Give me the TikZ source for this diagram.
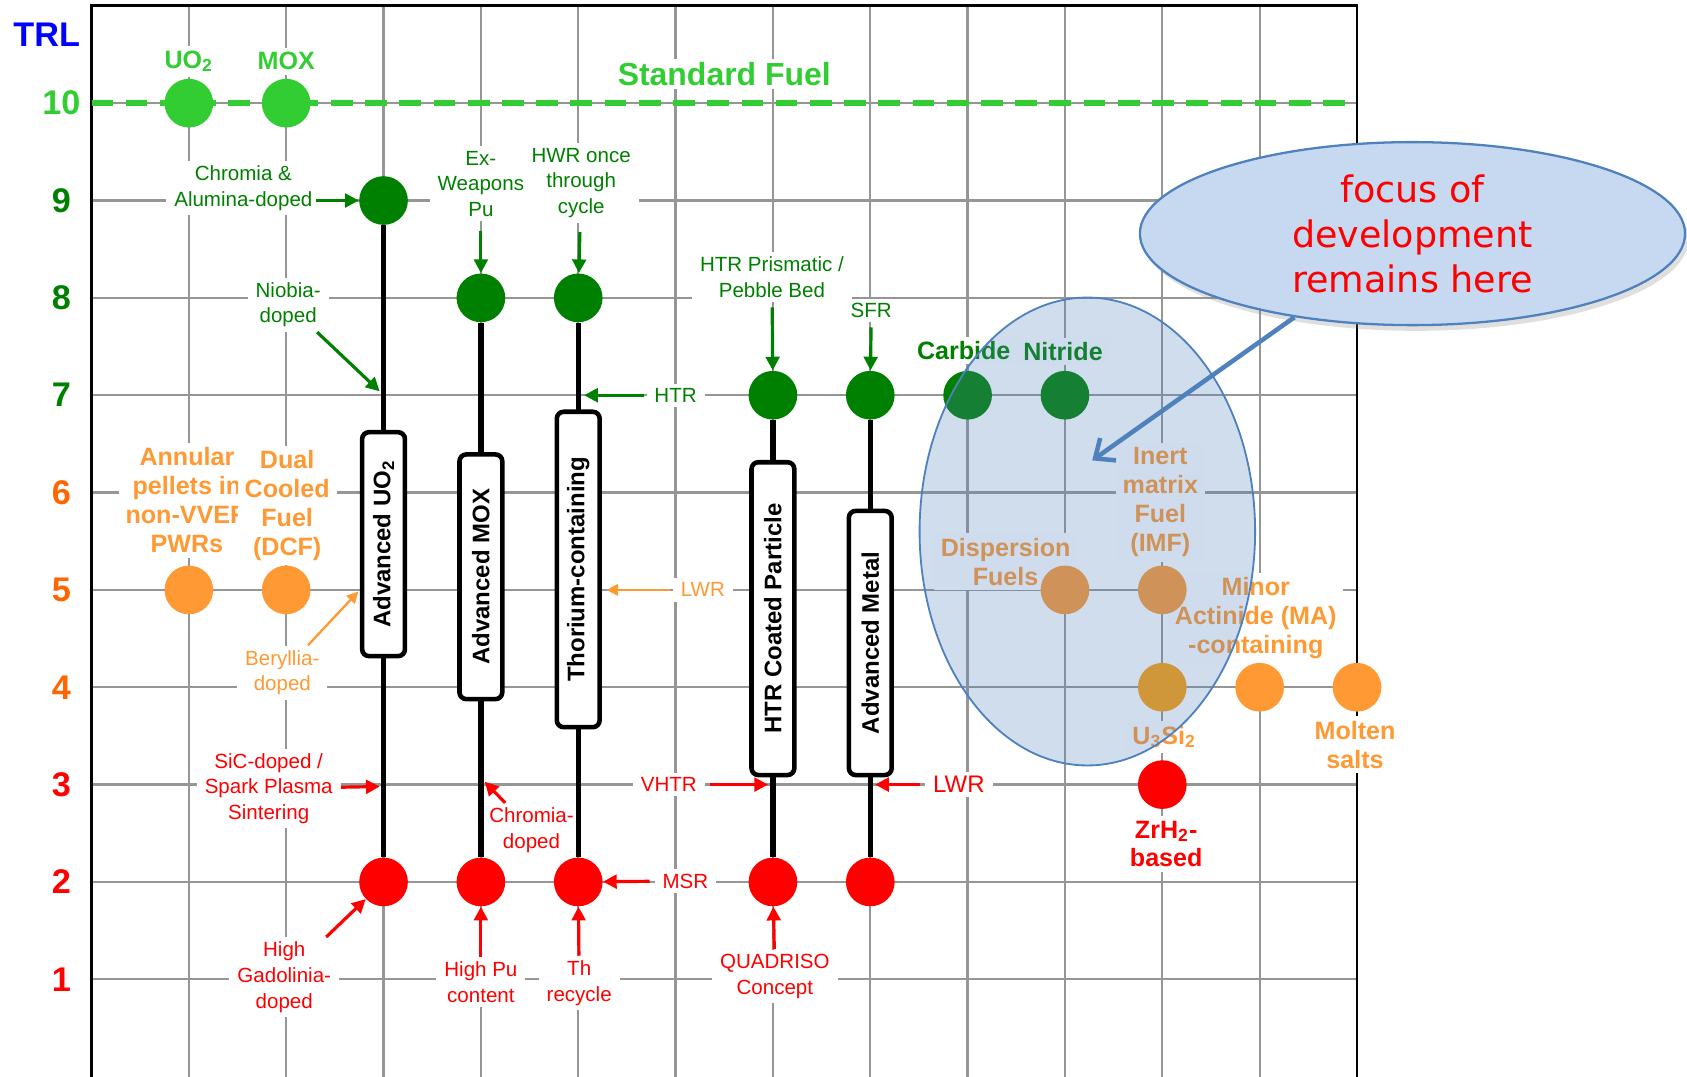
\documentclass[tikz,border=0pt]{standalone}
\usepackage{fontspec}
\setmainfont{Liberation Sans}
\newfontfamily\calloutfont{DejaVu Sans}
\usepackage{tikz}
\usetikzlibrary{arrows.meta,positioning,shapes.geometric,shadows}
\definecolor{stdgreen}{RGB}{50,205,50}
\definecolor{trlgreen}{RGB}{0,128,0}
\definecolor{trlorange}{RGB}{255,102,0}
\definecolor{fuelorange}{RGB}{255,153,51}
\definecolor{silicidegold}{RGB}{255,160,10}
\definecolor{trlred}{RGB}{255,0,0}
\definecolor{gridgray}{RGB}{150,150,150}
\definecolor{zoneblue}{RGB}{79,129,189}
\definecolor{calloutfill}{RGB}{198,217,241}
\tikzset{
  fueldot/.style = {circle, inner sep=0pt, minimum size=0.75cm},
  stem/.style    = {line width=2.4pt},
  fuelbox/.style = {draw, line width=2pt, rounded corners=3pt, fill=white, rotate=90,
                    minimum height=0.66cm, inner sep=1pt,
                    font=\fontsize{10.5}{12}\selectfont\bfseries},
  lbl/.style     = {fill=white, inner xsep=3.5pt, inner ysep=2pt, align=center,
                    font=\fontsize{9}{11.3}\selectfont},
  blbl/.style    = {fill=white, inner xsep=3pt, inner ysep=2pt, align=center,
                    font=\fontsize{11}{12.7}\selectfont\bfseries},
  trlnum/.style  = {font=\fontsize{15}{18}\selectfont\bfseries},
  garr/.style    = {-{Triangle[length=6pt,width=6pt]}, line width=1.4pt, trlgreen},
  oarr/.style    = {-{Triangle[length=5pt,width=5pt]}, line width=1pt, fuelorange},
  rarr/.style    = {-{Triangle[length=6pt,width=6pt]}, line width=1.4pt, trlred},
}

\begin{document}
\begin{tikzpicture}[x=1.5cm,y=1.5cm]
\useasboundingbox (-0.94,0) rectangle (16.39,11.06);
\draw[gridgray, line width=1pt, step=1.5cm] (0,0.001) grid (13,11);
\draw[line width=1.2pt] (0,0) -- (0,11) -- (13,11) -- (13,0);
\draw[stdgreen, line width=2.4pt, dash pattern=on 9.5pt off 5.5pt] (0,10) -- (13,10);

% TRL scale
\node[trlnum, text=blue] (trl) at (-0.46,10.70) {TRL};
\node[trlnum, text=stdgreen] (n10) at (-0.31,10) {10};
\node[trlnum, text=trlgreen] (n9) at (-0.31,9) {9};
\node[trlnum, text=trlgreen] (n8) at (-0.31,8) {8};
\node[trlnum, text=trlgreen] (n7) at (-0.31,7) {7};
\node[trlnum, text=trlorange] (n6) at (-0.31,6) {6};
\node[trlnum, text=trlorange] (n5) at (-0.31,5) {5};
\node[trlnum, text=trlorange] (n4) at (-0.31,4) {4};
\node[trlnum, text=trlred] (n3) at (-0.31,3) {3};
\node[trlnum, text=trlred] (n2) at (-0.31,2) {2};
\node[trlnum, text=trlred] (n1) at (-0.31,1) {1};

% standard fuel
\node[blbl, text=stdgreen] (uo2lbl) at (1,10.43) {UO\textsubscript{2}};
\node[blbl, text=stdgreen] (moxlbl) at (2,10.43) {MOX};
\node[fill=white, inner xsep=4pt, inner ysep=1.5pt, text=stdgreen, font=\fontsize{14}{16}\selectfont\bfseries] (stdlbl) at (6.5,10.30) {Standard Fuel};

% green labels
\node[lbl, text=trlgreen] (chromia) at (1.56,9.13) {Chromia \&\\Alumina-doped};
\node[lbl, text=trlgreen] (exweapons) at (4.0,9.17) {Ex-\\Weapons\\Pu};
\node[lbl, text=trlgreen] (hwr) at (5.03,9.18) {HWR once\\through\\cycle};
\node[lbl, text=trlgreen] (niobia) at (2.02,7.93) {Niobia-\\doped};
\node[lbl, text=trlgreen] (htr) at (6.0,7.0) {HTR};
\node[lbl, text=trlgreen] (prism) at (6.99,8.21) {HTR Prismatic /\\Pebble Bed};
\node[lbl, text=trlgreen] (sfr) at (8.01,7.87) {SFR};
\node[blbl, text=trlgreen] (carbide) at (8.96,7.46) {Carbide};
\node[blbl, text=trlgreen] (nitride) at (9.98,7.45) {Nitride};

% orange labels
\node[blbl, text=fuelorange] (annular) at (0.98,5.92) {Annular\\pellets in\\non-VVER\\PWRs};
\node[blbl, text=fuelorange] (dcf) at (2.01,5.87) {Dual\\Cooled\\Fuel\\(DCF)};
\node[lbl, text=fuelorange] (beryllia) at (1.96,4.15) {Beryllia-\\doped};
\node[lbl, text=fuelorange] (lwro) at (6.28,5.0) {LWR};
\node[blbl, text=fuelorange] (dispersion) at (9.39,5.29) {Dispersion\\Fuels};
\node[blbl, text=fuelorange] (imf) at (10.98,5.90) {Inert\\matrix\\Fuel\\(IMF)};
\node[blbl, text=fuelorange] (minor) at (11.96,4.71) {Minor\\Actinide (MA)\\-containing};
\node[blbl, text=fuelorange] (u3si2) at (11.02,3.49) {U\textsubscript{3}Si\textsubscript{2}};
\node[blbl, text=fuelorange] (molten) at (12.98,3.41) {Molten\\salts};

% red labels
\node[lbl, text=trlred] (sic) at (1.82,2.96) {SiC-doped /\\Spark Plasma\\Sintering};
\node[lbl, text=trlred] (chromred) at (4.52,2.53) {Chromia-\\doped};
\node[lbl, text=trlred] (vhtr) at (5.93,3.0) {VHTR};
\node[lbl, text=trlred, font=\fontsize{10.5}{12}\selectfont] (lwrr) at (8.91,3.0) {LWR};
\node[lbl, text=trlred] (msr) at (6.10,2.01) {MSR};
\node[lbl, text=trlred] (gado) at (1.98,1.02) {High\\Gadolinia-\\doped};
\node[lbl, text=trlred] (highpu) at (4.0,0.97) {High Pu\\content};
\node[lbl, text=trlred] (threc) at (5.01,0.96) {Th\\recycle};
\node[lbl, text=trlred] (quadriso) at (7.02,1.03) {QUADRISO\\Concept};
\node[blbl, text=trlred] (zrh2) at (11.04,2.39) {ZrH\textsubscript{2}-\\based};

% fuel points
\node[fueldot, fill=stdgreen] (g10a) at (1,10) {};
\node[fueldot, fill=stdgreen] (g10b) at (2,10) {};
\node[fueldot, fill=trlgreen] (d9) at (3,9) {};
\node[fueldot, fill=trlgreen] (d8a) at (4,8) {};
\node[fueldot, fill=trlgreen] (d8b) at (5,8) {};
\node[fueldot, fill=trlgreen] (d7a) at (7,7) {};
\node[fueldot, fill=trlgreen] (d7b) at (8,7) {};
\node[fueldot, fill=trlgreen] (d7c) at (9,7) {};
\node[fueldot, fill=trlgreen] (d7d) at (10,7) {};
\node[fueldot, fill=fuelorange] (o5a) at (1,5) {};
\node[fueldot, fill=fuelorange] (o5b) at (2,5) {};
\node[fueldot, fill=fuelorange] (o5c) at (10,5) {};
\node[fueldot, fill=fuelorange] (o5d) at (11,5) {};
\node[fueldot, fill=silicidegold] (o4a) at (11,4) {};
\node[fueldot, fill=fuelorange] (o4b) at (12,4) {};
\node[fueldot, fill=fuelorange] (o4c) at (13,4) {};
\node[fueldot, fill=trlred] (r3) at (11,3) {};
\node[fueldot, fill=trlred] (r2a) at (3,2) {};
\node[fueldot, fill=trlred] (r2b) at (4,2) {};
\node[fueldot, fill=trlred] (r2c) at (5,2) {};
\node[fueldot, fill=trlred] (r2d) at (7,2) {};
\node[fueldot, fill=trlred] (r2e) at (8,2) {};

% development lines
\draw[stem] (d9) -- (r2a);
\draw[stem] (d8a) -- (r2b);
\draw[stem] (d8b) -- (r2c);
\draw[stem] (d7a) -- (r2d);
\draw[stem] (d7b) -- (r2e);
\node[fuelbox, minimum width=3.45cm] (uo2box) at (3,5.47) {Advanced UO\textsubscript{2}};
\node[fuelbox, minimum width=3.77cm] (moxbox) at (4,5.135) {Advanced MOX};
\node[fuelbox, minimum width=4.86cm] (thbox) at (5,5.21) {Thorium-containing};
\node[fuelbox, minimum width=4.82cm] (htrbox) at (7,4.705) {HTR Coated Particle};
\node[fuelbox, minimum width=4.07cm] (metalbox) at (8,4.455) {Advanced Metal};

% arrows
\coordinate (nb7) at (2.96,7.04);
\coordinate (htr7) at (5.06,7.0);
\draw[garr, shorten <=-2pt] (chromia.east |- d9) -- (d9);
\draw[garr, shorten <=4pt] (exweapons) -- (d8a);
\draw[garr, shorten <=4pt] (hwr) -- (d8b);
\draw[garr] (niobia) -- (nb7);
\draw[garr, shorten <=1pt] (htr) -- (htr7);
\draw[garr, shorten <=2pt] (prism) -- (d7a);
\draw[garr, shorten <=2pt] (sfr) -- (d7b);
\draw[oarr, shorten >=1pt] (beryllia) -- (uo2box.north |- o5b);
\draw[oarr, shorten <=1pt, shorten >=2pt] (lwro) -- (thbox.south |- lwro);
\coordinate (sic3) at (2.96,2.98);
\coordinate (chr3) at (4.04,3.03);
\coordinate (vhtr3) at (6.95,3.0);
\coordinate (lwr3) at (8.05,3.0);
\draw[rarr] (sic) -- (sic3);
\draw[rarr] (chromred) -- (chr3);
\draw[rarr, shorten <=2pt] (vhtr) -- (vhtr3);
\draw[rarr, shorten <=2pt] (lwrr) -- (lwr3);
\draw[rarr, shorten <=2pt] (msr) -- (r2c);
\draw[rarr] (gado) -- (r2a);
\draw[rarr] (highpu) -- (r2b);
\draw[rarr] (threc) -- (r2c);
\draw[rarr] (quadriso) -- (r2d);

% focus zone and callout
\node[ellipse, draw=zoneblue, line width=0.8pt, fill=zoneblue, fill opacity=0.27,
      minimum width=5.17cm, minimum height=7.21cm, inner sep=0pt] (zone) at (10.23,5.6) {};
\node[ellipse, draw=zoneblue, line width=1pt, fill=calloutfill, minimum width=8.4cm,
      minimum height=2.82cm, inner sep=0pt, align=center, text=trlred,
      font=\calloutfont\fontsize{16}{19.8}\selectfont,
      drop shadow={opacity=0.25, shadow xshift=1.5pt, shadow yshift=-2.5pt}] (callout) at (13.57,8.66) {focus of\\development\\remains here};
\coordinate (zonetip) at (10.28,6.33);
\draw[zoneblue, line width=2pt, -{Straight Barb[length=7pt,width=12pt]}] (callout) -- (zonetip);
\end{tikzpicture}
\end{document}
